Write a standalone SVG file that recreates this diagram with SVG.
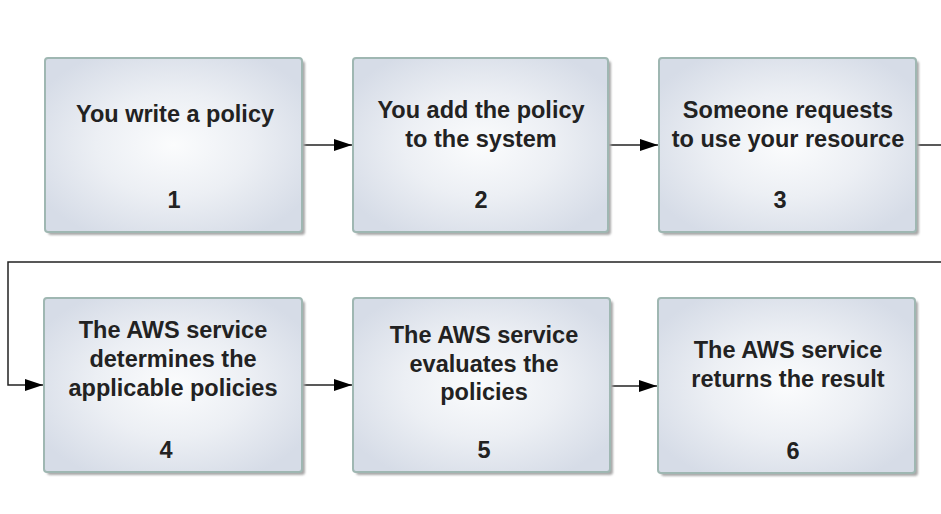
<svg xmlns="http://www.w3.org/2000/svg" width="941" height="514" viewBox="0 0 941 514">
<defs>
<radialGradient id="g" cx="50%" cy="50%" r="60%">
<stop offset="0" stop-color="#fbfcfd"/>
<stop offset="0.5" stop-color="#eceff4"/>
<stop offset="1" stop-color="#d6dce7"/>
</radialGradient>
<filter id="sh" x="-10%" y="-10%" width="120%" height="120%">
<feGaussianBlur stdDeviation="1.2"/>
</filter>
<marker id="ar" markerWidth="18" markerHeight="12" refX="18" refY="6" orient="auto" markerUnits="userSpaceOnUse">
<path d="M0,0 L18,6 L0,12 Z" fill="#000"/>
</marker>
</defs>
<style>
.s{fill:#a9a9a9;filter:url(#sh)}
.b{fill:url(#g);stroke:#9fb7b2;stroke-width:2}
.t{font-family:"Liberation Sans",Arial,sans-serif;font-weight:bold;font-size:23.5px;fill:#222;text-anchor:middle}
.c{fill:none;stroke:#222;stroke-width:1.5}
</style>
<rect width="941" height="514" fill="#fff"/>
<g id="connectors">
<path class="c" d="M302,145 H352" marker-end="url(#ar)"/>
<path class="c" d="M608,145 H658" marker-end="url(#ar)"/>
<path class="c" d="M916,145 H941"/>
<path class="c" d="M941,262 H8 V385 H43" marker-end="url(#ar)"/>
<path class="c" d="M302,385 H352" marker-end="url(#ar)"/>
<path class="c" d="M610,386 H657" marker-end="url(#ar)"/>
</g>
<g id="n1">
<rect class="s" x="48" y="61" width="257" height="174" rx="3"/>
<rect class="b" x="45" y="58" width="257" height="174" rx="3"/>
<text class="t" x="175" y="122">You write a policy</text>
<text class="t" x="174" y="208">1</text>
</g>
<g id="n2">
<rect class="s" x="356" y="61" width="255" height="174" rx="3"/>
<rect class="b" x="353" y="58" width="255" height="174" rx="3"/>
<text class="t" x="481" y="118">You add the policy</text>
<text class="t" x="481" y="147">to the system</text>
<text class="t" x="481" y="208">2</text>
</g>
<g id="n3">
<rect class="s" x="662" y="61" width="257" height="174" rx="3"/>
<rect class="b" x="659" y="58" width="257" height="174" rx="3"/>
<text class="t" x="788" y="118">Someone requests</text>
<text class="t" x="788" y="147">to use your resource</text>
<text class="t" x="780" y="208">3</text>
</g>
<g id="n4">
<rect class="s" x="47" y="301" width="258" height="174" rx="3"/>
<rect class="b" x="44" y="298" width="258" height="174" rx="3"/>
<text class="t" x="173" y="338">The AWS service</text>
<text class="t" x="173" y="367">determines the</text>
<text class="t" x="173" y="396">applicable policies</text>
<text class="t" x="166" y="458">4</text>
</g>
<g id="n5">
<rect class="s" x="356" y="301" width="257" height="174" rx="3"/>
<rect class="b" x="353" y="298" width="257" height="174" rx="3"/>
<text class="t" x="484" y="343">The AWS service</text>
<text class="t" x="484" y="372">evaluates the</text>
<text class="t" x="484" y="400">policies</text>
<text class="t" x="484" y="458">5</text>
</g>
<g id="n6">
<rect class="s" x="661" y="301" width="257" height="175" rx="3"/>
<rect class="b" x="658" y="298" width="257" height="175" rx="3"/>
<text class="t" x="788" y="358">The AWS service</text>
<text class="t" x="788" y="387">returns the result</text>
<text class="t" x="793" y="459">6</text>
</g>
</svg>
